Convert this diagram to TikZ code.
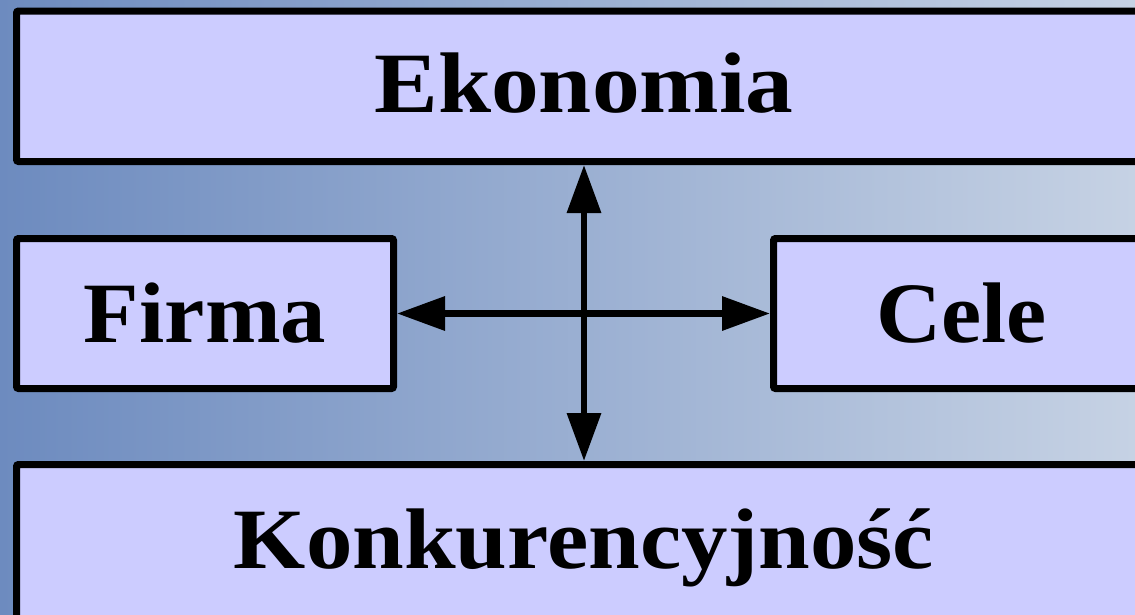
\documentclass[tikz,border=0pt]{standalone}
\usepackage{fontspec}
\setmainfont{Liberation Serif}
\usetikzlibrary{arrows.meta}
\definecolor{boxfill}{HTML}{CCCCFF}
\definecolor{bgleft}{RGB}{109,139,191}
\definecolor{bgright}{RGB}{198,210,228}
\begin{document}
\begin{tikzpicture}[x=1pt,y=-1pt,
  box/.style={draw=black, line width=7pt, fill=boxfill, rounded corners=2pt,
    inner sep=0pt, text height=57pt, text depth=0pt,
    font=\fontsize{86}{86}\selectfont\bfseries},
  link/.style={line width=6.5pt,
    {Triangle[length=48pt,width=33pt]}-{Triangle[length=48pt,width=33pt]}}]
\clip (0,0) rectangle (1135,614);
\shade[left color=bgleft, right color=bgright] (0,0) rectangle (1135,614);
\node[box, text depth=5.5pt, minimum width=1135pt, minimum height=150.5pt] (eko) at (584,86.25) {\scalebox{1.11}[1]{Ekonomia}};
\node[box, minimum width=377pt, minimum height=150pt] (firma) at (205,313.5) {\scalebox{1.056}[1]{Firma}};
\node[box, minimum width=376.5pt, minimum height=150pt] (cele) at (961.75,313.5) {\scalebox{1.05}[1]{Cele}};
\node[box, text depth=3pt, minimum width=1135pt, minimum height=154pt] (kon) at (584,541.5) {\scalebox{1.08}[1]{Konkurencyjność}};
\draw[link] (eko.south) -- (kon.north);
\draw[link] (firma.east) -- (cele.west);
\end{tikzpicture}
\end{document}
